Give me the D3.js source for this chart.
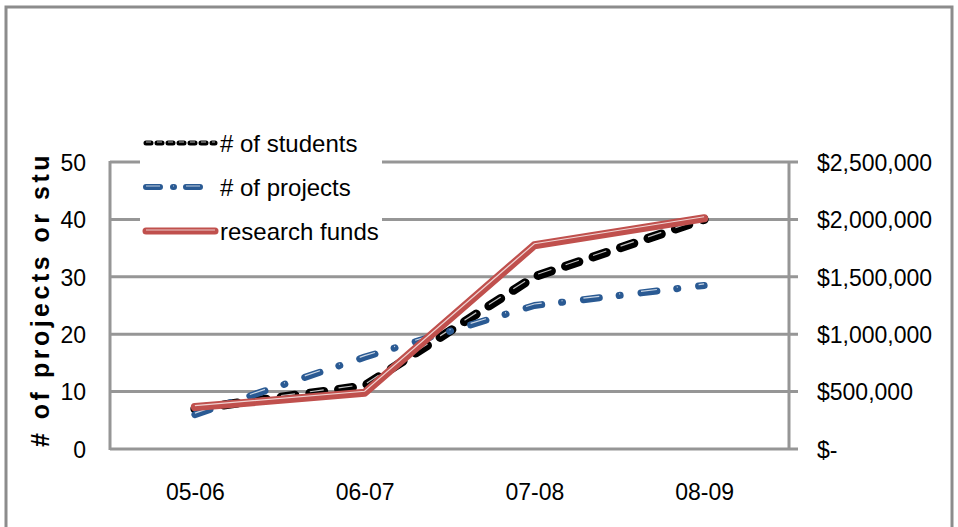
<!DOCTYPE html>
<html lang="en">
<head>
<meta charset="utf-8" />
<title>students, projects and research funds</title>
<script src="https://cdn.jsdelivr.net/npm/d3@7"></script>
<style>
  body { margin: 0; background: #fff; }
  svg text { font-family: "Liberation Sans", Arial, sans-serif; fill: #000; }
</style>
</head>
<body>
<div id="chart"></div>
<script>
var years = ["05-06", "06-07", "07-08", "08-09"];
var students = [7, 11, 30, 40];
var projects = [6, 16, 25, 28.5];
var funds = [365000, 490000, 1775000, 2010000];
var leftTicks = [0, 10, 20, 30, 40, 50];
var rightTicks = [0, 500000, 1000000, 1500000, 2000000, 2500000];

var width = 958, height = 527;
var plotL = 110, plotR = 789, plotT = 162, plotB = 449;
var grid = "#969696";

var svg = d3.select("#chart").append("svg")
    .attr("width", width)
    .attr("height", height);

// outer chart frame
svg.append("rect")
    .attr("x", 6).attr("y", 7)
    .attr("width", 946).attr("height", 560)
    .attr("fill", "none")
    .attr("stroke", "#8c8c8c")
    .attr("stroke-width", 3);

var x = d3.scalePoint().domain(years).range([plotL, plotR]).padding(0.5);
var yL = d3.scaleLinear().domain([0, 50]).range([plotB, plotT]);
var yR = d3.scaleLinear().domain([0, 2500000]).range([plotB, plotT]);

// gridlines, with the right axis ticks sticking out
svg.append("g").selectAll("line")
    .data(leftTicks)
    .join("line")
    .attr("x1", plotL).attr("x2", plotR + 9)
    .attr("y1", d => yL(d)).attr("y2", d => yL(d))
    .attr("stroke", grid)
    .attr("stroke-width", 3);

svg.append("line")
    .attr("x1", plotL).attr("x2", plotL)
    .attr("y1", plotT - 1).attr("y2", plotB + 1)
    .attr("stroke", grid).attr("stroke-width", 3);
svg.append("line")
    .attr("x1", plotR).attr("x2", plotR)
    .attr("y1", plotT - 1).attr("y2", plotB + 1)
    .attr("stroke", grid).attr("stroke-width", 3);

// axes (labels only, lines drawn above)
var axL = svg.append("g")
    .attr("transform", "translate(" + (plotL - 24) + ",0)")
    .call(d3.axisLeft(yL).tickValues(leftTicks).tickSize(0).tickPadding(0));
var axR = svg.append("g")
    .attr("transform", "translate(" + (plotR + 28) + ",0)")
    .call(d3.axisRight(yR).tickValues(rightTicks).tickSize(0).tickPadding(0)
      .tickFormat(d => d === 0 ? "$-" : "$" + d3.format(",")(d)));
var axX = svg.append("g")
    .attr("transform", "translate(0," + (plotB + 35) + ")")
    .call(d3.axisBottom(x).tickSize(0).tickPadding(0));
[axL, axR, axX].forEach(function(a) {
  a.select(".domain").remove();
  a.selectAll("text").style("font-size", "23px").attr("fill", "#000");
});
axL.selectAll("text").attr("dy", "0.36em");
axR.selectAll("text").attr("dy", "0.36em");
axX.selectAll("text").attr("dy", "0.71em");

// y title, clipped at the top like the original
svg.append("clipPath").attr("id", "titleclip")
  .append("rect").attr("x", 0).attr("y", 153).attr("width", 100).attr("height", 320);
svg.append("g")
    .attr("clip-path", "url(#titleclip)")
  .append("text")
    .attr("transform", "translate(49,447) rotate(-90)")
    .style("font-size", "25px")
    .style("font-weight", "bold")
    .style("letter-spacing", "3.5px")
    .text("# of projects or students");

// legend
var legendX = 146;
svg.append("rect")
    .attr("x", 140).attr("y", 124)
    .attr("width", 242).attr("height", 124)
    .attr("fill", "#fff");

var series = [
  { name: "# of students", values: students, y: yL, color: "#000", w: 9, dash: "14,15", ldash: "5,6", lw: 5 },
  { name: "# of projects", values: projects, y: yL, color: "#2a5a93", w: 7, dash: "16,20,1,21", ldash: "14,13,1,12,14,100", lw: 6 },
  { name: "research funds", values: funds, y: yR, color: "#c0504d", w: 8, dash: null, ldash: null, lw: 7 }
];

var line = function(s) {
  return d3.line().x((d, i) => x(years[i])).y(d => s.y(d))(s.values);
};

series.forEach(function(s) {
  var g = svg.append("g");
  g.append("path")
      .attr("d", line(s))
      .attr("fill", "none")
      .attr("stroke", s.color)
      .attr("stroke-width", s.w)
      .attr("stroke-linecap", "round")
      .attr("stroke-linejoin", "round")
      .attr("stroke-dasharray", s.dash);
  g.append("path")
      .attr("d", line(s))
      .attr("transform", "translate(0,-1.5)")
      .attr("fill", "none")
      .attr("stroke", "#fff")
      .attr("stroke-opacity", 0.75)
      .attr("stroke-width", 1.2)
      .attr("stroke-dasharray", s.dash);
});

series.forEach(function(s, i) {
  var ly = 143 + i * 44;
  var x2 = i === 1 ? 206 : 215;
  svg.append("line")
      .attr("x1", legendX).attr("x2", x2)
      .attr("y1", ly).attr("y2", ly)
      .attr("stroke", s.color)
      .attr("stroke-width", s.lw)
      .attr("stroke-linecap", "round")
      .attr("stroke-dasharray", s.ldash);
  svg.append("line")
      .attr("x1", legendX).attr("x2", x2)
      .attr("y1", ly - 1).attr("y2", ly - 1)
      .attr("stroke", "#fff")
      .attr("stroke-opacity", 0.7)
      .attr("stroke-width", 1)
      .attr("stroke-dasharray", s.ldash);
  svg.append("text")
      .attr("x", 220).attr("y", ly)
      .attr("dy", "0.36em")
      .style("font-size", "24px")
      .text(s.name);
});
</script>
</body>
</html>
